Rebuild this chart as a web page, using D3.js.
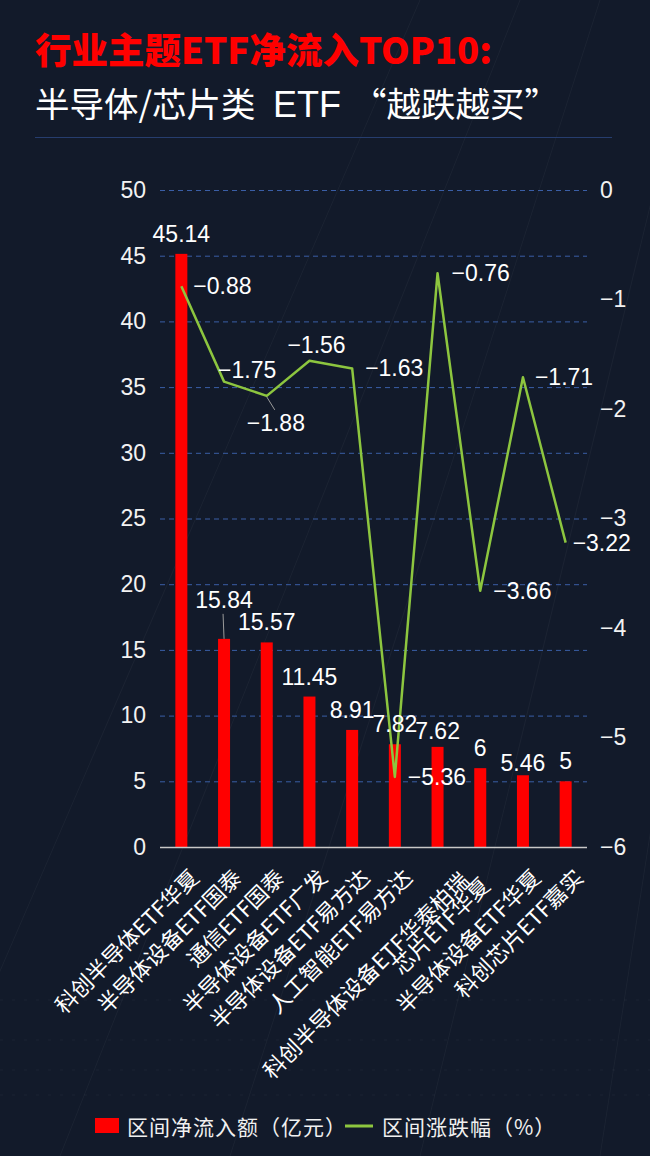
<!DOCTYPE html>
<html>
<head>
<meta charset="utf-8">
<script src="https://d3js.org/d3.v7.min.js"></script>
<style>
  html, body { margin: 0; padding: 0; background: #121a2a; }
  svg { display: block; }
</style>
</head>
<body>
<div id="chart"></div>
<script>
// Chart data
const categories = [
    '科创半导体ETF华夏', '半导体设备ETF国泰', '通信ETF国泰', '半导体设备ETF广发',
    '半导体设备ETF易方达', '人工智能ETF易方达', '科创半导体设备ETF华泰柏瑞',
    '芯片ETF华夏', '半导体设备ETF华夏', '科创芯片ETF嘉实'
];
const netInflow = [45.14, 15.84, 15.57, 11.45, 8.91, 7.82, 7.62, 6, 5.46, 5];   // 亿元
const priceChange = [-0.88, -1.75, -1.88, -1.56, -1.63, -5.36, -0.76, -3.66, -1.71, -3.22]; // %
const leftTicks = [0, 5, 10, 15, 20, 25, 30, 35, 40, 45, 50];
const rightTicks = [0, -1, -2, -3, -4, -5, -6];

// Label nudges where the labels would collide
const barLabelShift = [0, -19, 0, 0, 0, 0, 4, 0, 8, 0];
const lineLabelOffset = [
    [12, 0], [-6, -12], [-20, 27], [-22, -16], [13, 0],
    [13, 0], [14, 0], [13, 0], [12, 0], [7, 0]
];
const catLabelNudge = [
    [0, 0], [0, 0], [0, 0], [0, 0], [0, 0],
    [0, 0], [14, 3], [-8, 8], [0, 0], [0, 0]
];

const W = 650, H = 1156;
const numFont = '"Liberation Sans", Arial, sans-serif';
const cjkFont = '"Noto Sans CJK SC", "Noto Sans", sans-serif';

const svg = d3.select('#chart')
    .append('svg')
    .attr('width', W)
    .attr('height', H);

// Background
svg.append('rect')
    .attr('width', W)
    .attr('height', H)
    .attr('fill', '#121a2a');

// Faint perspective decoration
const deco = svg.append('g')
    .attr('stroke', '#ffffff')
    .attr('stroke-opacity', 0.04)
    .attr('stroke-width', 1);
[[-80, 420], [60, 520], [230, 600], [420, 700], [600, 780], [760, 900]].forEach(([x0, x1]) => {
    deco.append('line').attr('x1', x0).attr('y1', H).attr('x2', x1).attr('y2', 0);
});
[1000, 1040, 1070, 1095].forEach(y => {
    deco.append('line')
        .attr('x1', 0).attr('x2', W)
        .attr('y1', y).attr('y2', y)
        .attr('stroke-dasharray', '3,9');
});

// Titles
svg.append('text')
    .attr('x', 35)
    .attr('y', 64)
    .style('font-family', cjkFont)
    .style('font-weight', 900)
    .style('font-size', '36.5px')
    .style('fill', '#ff0000')
    .text('行业主题ETF净流入TOP10:');

const sub = svg.append('text')
    .attr('y', 117)
    .style('font-family', cjkFont)
    .style('font-weight', 400)
    .style('font-size', '34.5px')
    .style('fill', '#ffffff');
sub.append('tspan').attr('x', 35).text('半导体/芯片类');
sub.append('tspan').attr('x', 273)
    .style('font-family', numFont)
    .style('font-size', '36px')
    .text('ETF');
sub.append('tspan').attr('x', 352).text('“越跌越买”');

svg.append('line')
    .attr('x1', 35).attr('x2', 612)
    .attr('y1', 137.5).attr('y2', 137.5)
    .attr('stroke', '#263d6e')
    .attr('stroke-width', 1);

// Scales
const x = d3.scaleBand()
    .domain(categories)
    .range([160, 587]);

const yLeft = d3.scaleLinear()
    .domain([0, 50])
    .range([847, 190]);

const yRight = d3.scaleLinear()
    .domain([-6, 0])
    .range([847, 190]);

const cx = d => x(d) + x.bandwidth() / 2;
const fmt = d3.format('');

// Grid lines
svg.append('g')
    .selectAll('line')
    .data(leftTicks.filter(t => t > 0))
    .join('line')
    .attr('x1', 160)
    .attr('x2', 587)
    .attr('y1', d => yLeft(d) + 0.5)
    .attr('y2', d => yLeft(d) + 0.5)
    .attr('stroke', '#3a5ea6')
    .attr('stroke-width', 1)
    .attr('stroke-dasharray', '5,4');

// Left axis
const leftAxis = svg.append('g')
    .attr('transform', 'translate(146,0)')
    .call(d3.axisLeft(yLeft).tickValues(leftTicks).tickSize(0).tickPadding(0));
leftAxis.select('.domain').remove();
leftAxis.selectAll('text')
    .style('font-family', numFont)
    .style('font-size', '23px')
    .style('fill', '#f2f2f2');

// Right axis
const rightAxis = svg.append('g')
    .attr('transform', 'translate(600,0)')
    .call(d3.axisRight(yRight).tickValues(rightTicks).tickSize(0).tickPadding(0)
        .tickFormat(d3.format('d')));
rightAxis.select('.domain').remove();
rightAxis.selectAll('text')
    .style('font-family', numFont)
    .style('font-size', '23px')
    .style('fill', '#f2f2f2');

// Bars
const barWidth = 12;
svg.append('g')
    .selectAll('rect')
    .data(categories)
    .join('rect')
    .attr('x', d => cx(d) - barWidth / 2)
    .attr('y', (d, i) => yLeft(netInflow[i]))
    .attr('width', barWidth)
    .attr('height', (d, i) => yLeft(0) - yLeft(netInflow[i]))
    .attr('fill', '#ff0000');

// Baseline
svg.append('line')
    .attr('x1', 160).attr('x2', 587)
    .attr('y1', yLeft(0) + 0.5).attr('y2', yLeft(0) + 0.5)
    .attr('stroke', '#c8c8c8')
    .attr('stroke-width', 1.5);

// Line series
const line = d3.line()
    .x((d, i) => cx(categories[i]))
    .y(d => yRight(d));

svg.append('path')
    .datum(priceChange)
    .attr('d', line)
    .attr('fill', 'none')
    .attr('stroke', '#8dc63f')
    .attr('stroke-width', 2.5)
    .attr('stroke-linejoin', 'round');

// Leader lines for displaced labels
const leaders = svg.append('g')
    .attr('stroke', '#9a9a9a')
    .attr('stroke-width', 1);
leaders.append('line')
    .attr('x1', cx(categories[1]) - 1).attr('y1', yLeft(netInflow[1]) - 25)
    .attr('x2', cx(categories[1])).attr('y2', yLeft(netInflow[1]));
leaders.append('line')
    .attr('x1', cx(categories[2])).attr('y1', yRight(priceChange[2]) + 1)
    .attr('x2', cx(categories[2]) + 8).attr('y2', yRight(priceChange[2]) + 14);

// Bar value labels
svg.append('g')
    .selectAll('text')
    .data(categories)
    .join('text')
    .attr('x', d => cx(d))
    .attr('y', (d, i) => yLeft(netInflow[i]) - 12 + barLabelShift[i])
    .attr('text-anchor', 'middle')
    .style('font-family', numFont)
    .style('font-size', '23px')
    .style('fill', '#ffffff')
    .text((d, i) => fmt(netInflow[i]));

// Line value labels
svg.append('g')
    .selectAll('text')
    .data(categories)
    .join('text')
    .attr('x', (d, i) => cx(d) + lineLabelOffset[i][0])
    .attr('y', (d, i) => yRight(priceChange[i]) + lineLabelOffset[i][1])
    .attr('dominant-baseline', 'central')
    .style('font-family', numFont)
    .style('font-size', '23px')
    .style('fill', '#ffffff')
    .text((d, i) => d3.format('.2f')(priceChange[i]));

// Category labels
svg.append('g')
    .selectAll('text')
    .data(categories)
    .join('text')
    .attr('transform', (d, i) =>
        `translate(${cx(d) + 12 + catLabelNudge[i][0]},${872 + catLabelNudge[i][1]}) rotate(-45)`)
    .attr('text-anchor', 'end')
    .attr('dominant-baseline', 'central')
    .style('font-family', cjkFont)
    .style('font-size', '22px')
    .style('fill', '#ffffff')
    .text(d => d);

// Legend
const legend = svg.append('g')
    .style('font-family', cjkFont)
    .style('font-size', '21px')
    .style('letter-spacing', '1px')
    .style('fill', '#f0f0f0');

legend.append('rect')
    .attr('x', 95).attr('y', 1118)
    .attr('width', 24).attr('height', 15)
    .attr('fill', '#ff0000');
legend.append('text')
    .attr('x', 127).attr('y', 1126)
    .attr('dominant-baseline', 'central')
    .text('区间净流入额（亿元）');

legend.append('line')
    .attr('x1', 345).attr('x2', 373)
    .attr('y1', 1126).attr('y2', 1126)
    .attr('stroke', '#8dc63f')
    .attr('stroke-width', 3);
legend.append('text')
    .attr('x', 382).attr('y', 1126)
    .attr('dominant-baseline', 'central')
    .text('区间涨跌幅（%）');
</script>
</body>
</html>
